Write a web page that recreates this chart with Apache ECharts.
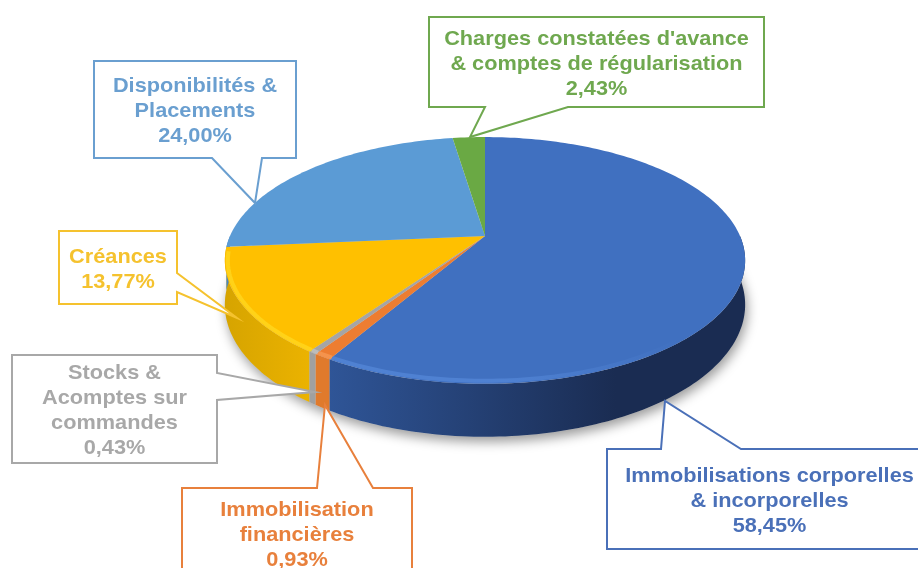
<!DOCTYPE html>
<html>
<head>
<meta charset="utf-8">
<style>
  html, body { margin: 0; padding: 0; background: #fff; }
  #chart { width: 918px; height: 568px; }
</style>
</head>
<body>
<div id="chart"></div>
<script src="https://cdn.jsdelivr.net/npm/echarts@6/dist/echarts.min.js"></script>
<script>
// data
const names = [
  'Immobilisations corporelles\n& incorporelles',
  'Immobilisation\nfinancières',
  'Stocks &\nAcomptes sur\ncommandes',
  'Créances',
  'Disponibilités &\nPlacements',
  "Charges constatées d'avance\n& comptes de régularisation"
]
const values = [58.45, 0.93, 0.43, 13.77, 24.0, 2.43]
const valueLabels = ['58,45%', '0,93%', '0,43%', '13,77%', '24,00%', '2,43%']

// styles
const topColors = ['#4070c0', '#ed7d31', '#a5a5a5', '#ffc000', '#5b9bd5', '#6aa944']
const wallLeft = ['#2f5597', '#e07a2c', '#a0a0a0', '#d6a400', '#4a85bd', '#5c9a3c']
const wallMid = ['#2f5597', '#e07a2c', '#a0a0a0', '#f0b600', '#4a85bd', '#5c9a3c']
const wallRight = ['#1a2c52', '#d06a22', '#9a9a9a', '#f2b800', '#4a85bd', '#5c9a3c']
const bevelColors = ['#5487d8', '#f79a55', '#c4c4c4', '#ffd820', '#5b9bd5', '#6aa944']
const labelColors = ['#4a70b8', '#e8803c', '#a8a8a8', '#f5c22e', '#6a9fd0', '#6fa84f']

// callout boxes [left, top, right, bottom] and pointer [a, tip, b]
const boxes = [
  [607, 449, 932, 549],
  [182, 488, 412, 578],
  [12, 355, 217, 463],
  [59, 231, 177, 304],
  [94, 61, 296, 158],
  [429, 17, 764, 107]
]
const pointers = [
  [[661, 449], [665, 401], [741, 449]],
  [[317, 488], [325, 405], [373, 488]],
  [[217, 373], [315, 392], [217, 400]],
  [[177, 273], [237, 318], [177, 292]],
  [[212, 158], [255, 203], [262, 158]],
  [[485, 107], [470, 137], [568, 107]]
]

// pie projection: the disc is tilted, so the apex sits above the ellipse centre
const cx = 485
const cy = 260
const radius = 255
const persp = -0.198
const yA = 71.8
const yB = 236
const depth = 42.5

const project = (theta, drop) => {
  const t = -Math.cos(theta)
  const w = 1 + persp * t
  return [cx + (radius * Math.sin(theta)) / w, (yA * t + yB) / w + (drop ? depth / w : 0)]
}

const arc = (from, to, drop) => {
  const pts = []
  const n = Math.max(2, Math.ceil((to - from) / 0.02))
  for (let i = 0; i <= n; i++) {
    pts.push(project(from + ((to - from) * i) / n, drop))
  }
  return pts
}

const total = values.reduce((a, b) => a + b, 0)
let acc = 0
const ranges = values.map(v => {
  const from = (acc / total) * Math.PI * 2
  acc += v
  return [from, (acc / total) * Math.PI * 2]
})

const wallFill = i => ({
  type: 'linear', x: 225, y: 0, x2: 746, y2: 0, global: true,
  colorStops: [
    { offset: 0, color: wallLeft[i] },
    { offset: 0.2, color: wallMid[i] },
    { offset: 0.75, color: wallRight[i] },
    { offset: 1, color: wallRight[i] }
  ]
})

const bevelFill = i => ({
  type: 'linear', x: 240, y: 0, x2: 680, y2: 0, global: true,
  colorStops: [
    { offset: 0, color: bevelColors[i] },
    { offset: 0.6, color: bevelColors[i] },
    { offset: 1, color: topColors[i] }
  ]
})

const renderWall = (params, api) => {
  const i = api.value(0)
  const [from, to] = ranges[i]
  const children = []
  // side wall, only the front half of the disc shows it
  const a = Math.max(from, Math.PI * 0.5)
  const b = Math.min(to, Math.PI * 1.5)
  if (b > a) {
    children.push({
      type: 'polygon',
      shape: { points: arc(a, b, false).concat(arc(a, b, true).reverse()) },
      style: { fill: wallFill(i) }
    })
  }
  return { type: 'group', children }
}

const renderTop = (params, api) => {
  const i = api.value(0)
  const [from, to] = ranges[i]
  const children = [{
    type: 'polygon',
    shape: { points: [[cx, yB]].concat(arc(from, to, false)) },
    style: { fill: topColors[i] }
  }]
  // light rim just inside the front edge
  const a = Math.max(from, Math.PI * 0.72)
  const b = Math.min(to, Math.PI * 1.46)
  if (b > a) {
    const inset = arc(a, b, false).map(p => {
      const dx = cx - p[0]
      const dy = cy - p[1]
      const d = Math.sqrt(dx * dx + dy * dy)
      return [p[0] + (dx / d) * 3, p[1] + (dy / d) * 3]
    })
    children.push({
      type: 'polyline',
      shape: { points: inset },
      style: { stroke: bevelFill(i), lineWidth: 4, fill: null, opacity: 0.75, lineCap: 'butt' }
    })
  }
  return { type: 'group', children }
}

const renderShadow = () => ({
  type: 'polygon',
  shape: { points: arc(Math.PI * 0.35, Math.PI * 1.65, true) },
  style: { fill: '#cfcfcf', shadowBlur: 12, shadowColor: 'rgba(0,0,0,0.4)', shadowOffsetX: 2, shadowOffsetY: 5 }
})

const renderCallout = (params, api) => {
  const i = api.value(0)
  const [l, t, r, bt] = boxes[i]
  const [p1, tip, p2] = pointers[i]
  // walk round the box and break out to the tip on the side the pointer leaves from
  let outline
  if (p1[1] === t) outline = [[l, t], p1, tip, p2, [r, t], [r, bt], [l, bt]]
  else if (p1[1] === bt) outline = [[l, t], [r, t], [r, bt], p2, tip, p1, [l, bt]]
  else outline = [[l, t], [r, t], p1, tip, p2, [r, bt], [l, bt]]
  return {
    type: 'group',
    children: [
      {
        type: 'polygon',
        shape: { points: outline },
        style: { fill: '#fff', stroke: labelColors[i], lineWidth: 2 }
      },
      {
        // the original lettering is a little wider than the font, hence scaleX
        type: 'text',
        x: (l + r) / 2,
        y: (t + bt) / 2 + 2,
        scaleX: 1.06,
        style: {
          x: 0,
          y: 0,
          text: names[i] + '\n' + valueLabels[i],
          fill: labelColors[i],
          font: 'bold 20.5px "Liberation Sans", Arial, sans-serif',
          lineHeight: 25,
          align: 'center',
          verticalAlign: 'middle'
        }
      }
    ]
  }
}

const indexData = values.map((v, i) => [i, v])
const chart = echarts.init(document.getElementById('chart'), null, { renderer: 'canvas' })
chart.setOption({
  animation: false,
  backgroundColor: '#fff',
  series: [
    { type: 'custom', coordinateSystem: 'none', silent: true, z: 1, data: [[0]], renderItem: renderShadow },
    { type: 'custom', coordinateSystem: 'none', silent: true, z: 2, data: indexData, renderItem: renderWall },
    { type: 'custom', coordinateSystem: 'none', silent: true, z: 3, data: indexData, renderItem: renderTop },
    { type: 'custom', coordinateSystem: 'none', silent: true, z: 4, data: indexData, renderItem: renderCallout }
  ]
})
</script>
</body>
</html>
